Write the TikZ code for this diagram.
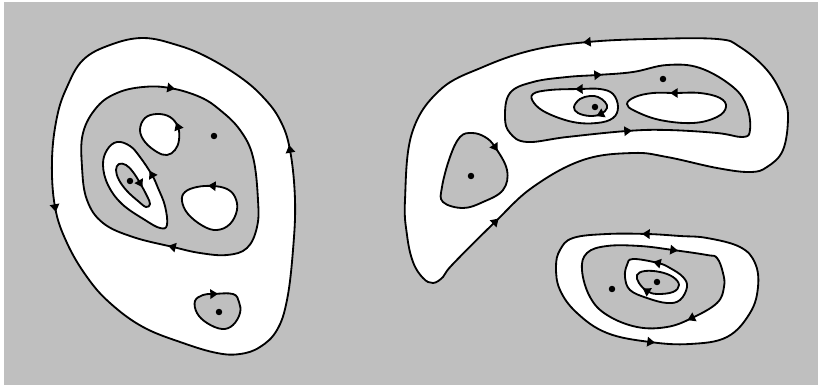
\documentclass[tikz,border=0pt]{standalone}
\usetikzlibrary{calc,shapes.geometric}
\definecolor{Field}{gray}{0.75}
\tikzset{
 curve/.style={draw=black, line width=1.3pt, line join=round},
 light/.style={curve, fill=white},
 dark/.style={curve, fill=Field},
 arrowhead/.style={isosceles triangle, isosceles triangle stretches, shape border rotate=0, minimum width=7pt, minimum height=5.4pt, inner sep=0pt, fill=black},
 dot/.style={circle, fill=black, inner sep=0pt, minimum size=4.6pt}
}
% arrowhead #1 sitting on the curve at #2, pointing from #3 towards #4
\newcommand{\flowtip}[4]{\path let \p1=($#4-#3$), \n1={atan2(\y1,\x1)} in node[arrowhead, rotate=\n1] (#1) at #2 {};}
\begin{document}
\begin{tikzpicture}[x=0.025cm, y=-0.025cm, tension=0.65]
\useasboundingbox (0,0) rectangle (818,388);
\fill[Field] (4,2) rectangle (818,385);
% left island
\draw[light] plot[smooth cycle] coordinates {(55,207) (67,243) (87,277) (110,303) (143,327) (183,343) (217,353) (240,354) (260,347) (277,330) (287,300) (293,250) (295,200) (290,150) (280,120) (263,97) (240,77) (207,57) (177,45) (143,38) (110,45) (83,60) (67,87) (57,117) (52,160)};
\flowtip{a1}{(55,207)}{(52,160)}{(67,243)}
\flowtip{a2}{(290,150)}{(295,200)}{(280,120)}
\draw[dark] plot[smooth cycle] coordinates {(170,88) (200,97) (220,110) (240,130) (253,157) (258,200) (257,227) (247,248) (227,255) (200,253) (173,247) (133,237) (103,223) (87,200) (82,167) (83,133) (97,107) (117,93) (143,87)};
\flowtip{a3}{(170,88)}{(143,87)}{(200,97)}
\flowtip{a4}{(173,247)}{(200,253)}{(133,237)}
\draw[light] plot[smooth cycle] coordinates {(178,127) (170,117) (157,114) (145,118) (140,130) (145,142) (157,152) (167,155) (175,150) (179,140)};
\flowtip{a5}{(178,127)}{(179,140)}{(170,117)}
\draw[light] plot[smooth cycle] coordinates {(152,175) (140,157) (130,146) (117,142) (107,150) (103,165) (108,185) (122,204) (145,220) (160,228) (167,225) (165,206) (158,188)};
\flowtip{a6}{(152,175)}{(158,188)}{(140,157)}
\draw[dark] plot[smooth cycle] coordinates {(140,183) (147,196) (150,204) (146,207) (138,201) (127,191) (119,180) (116,170) (119,164) (126,165) (133,172)};
\flowtip{a7}{(140,183)}{(133,172)}{(147,196)}
\draw[light] plot[smooth cycle] coordinates {(213,186) (197,187) (185,192) (182,201) (188,214) (203,226) (217,230) (230,224) (237,210) (235,197) (227,189)};
\flowtip{a8}{(213,186)}{(227,189)}{(197,187)}
\draw[dark] plot[smooth cycle] coordinates {(213,294) (233,294) (239,302) (240,313) (233,325) (222,329) (207,323) (197,313) (195,301) (203,295)};
\flowtip{a9}{(213,294)}{(203,295)}{(233,294)}
\node[dot] (left top) at (214,136) {};
\node[dot] (left core) at (130,181) {};
\node[dot] (left low) at (219,312) {};
% upper right island
\draw[light] plot[smooth cycle] coordinates {(588,42) (533,50) (483,67) (440,90) (412,133) (405,200) (407,235) (413,262) (423,278) (433,283) (443,277) (452,265) (495,222) (533,187) (583,160) (633,153) (667,157) (717,168) (750,172) (767,167) (783,150) (788,117) (783,97) (767,70) (740,47) (717,39) (650,39)};
\flowtip{b1}{(588,42)}{(650,39)}{(533,50)}
\flowtip{b2}{(495,222)}{(452,265)}{(533,187)}
\draw[dark] plot[smooth cycle] coordinates {(495,147) (507,170) (503,190) (483,202) (463,208) (443,202) (442,187) (450,157) (460,137) (472,133) (485,137)};
\flowtip{b3}{(495,147)}{(485,137)}{(507,170)}
\draw[dark] plot[smooth cycle] coordinates {(597,75) (633,72) (667,65) (700,68) (733,87) (747,107) (750,130) (743,137) (717,133) (667,130) (627,131) (567,137) (527,142) (510,133) (505,117) (510,93) (533,82) (567,77)};
\flowtip{b4}{(597,75)}{(567,77)}{(633,72)}
\flowtip{b5}{(627,131)}{(567,137)}{(667,130)}
\draw[light] plot[smooth cycle] coordinates {(580,89) (550,90) (533,94) (534,103) (547,113) (573,122) (597,123) (613,118) (618,107) (613,94) (600,89)};
\flowtip{b6}{(580,89)}{(600,89)}{(550,90)}
\draw[dark] plot[smooth cycle] coordinates {(601,114) (590,116) (578,113) (574,107) (580,99) (590,96) (598,97) (605,102) (607,108)};
\flowtip{b7}{(601,114)}{(607,108)}{(590,116)}
\draw[light] plot[smooth cycle] coordinates {(675,93) (653,93) (635,97) (627,104) (635,111) (660,120) (693,123) (717,117) (726,107) (720,98) (700,93)};
\flowtip{b8}{(675,93)}{(700,93)}{(653,93)}
\node[dot] (upper blob) at (471,176) {};
\node[dot] (upper core) at (595,107) {};
\node[dot] (upper ring) at (663,79) {};
% lower right island
\draw[light] plot[smooth cycle] coordinates {(647,234) (607,234) (573,238) (560,250) (556,267) (560,290) (577,313) (607,333) (650,342) (690,344) (727,337) (750,313) (758,287) (755,263) (740,247) (707,238) (680,236)};
\flowtip{c1}{(647,234)}{(680,236)}{(607,234)}
\flowtip{c2}{(650,342)}{(607,333)}{(690,344)}
\draw[dark] plot[smooth cycle] coordinates {(673,250) (707,255) (717,258) (723,273) (724,287) (717,303) (692,318) (667,327) (637,327) (607,315) (590,297) (582,270) (587,253) (607,246) (640,246)};
\flowtip{c3}{(673,250)}{(640,246)}{(707,255)}
\flowtip{c4}{(692,318)}{(717,303)}{(667,327)}
\draw[light] plot[smooth cycle] coordinates {(658,263) (633,259) (627,265) (625,277) (630,290) (647,298) (667,303) (680,300) (687,287) (683,277) (670,268)};
\flowtip{c5}{(658,263)}{(670,268)}{(633,259)}
\draw[dark] plot[smooth cycle] coordinates {(647,291) (639,283) (637,275) (645,271) (660,272) (673,277) (679,285) (673,292) (657,294)};
\flowtip{c6}{(647,291)}{(657,294)}{(639,283)}
\node[dot] (lower ring) at (612,289) {};
\node[dot] (lower core) at (657,282) {};
\end{tikzpicture}
\end{document}
